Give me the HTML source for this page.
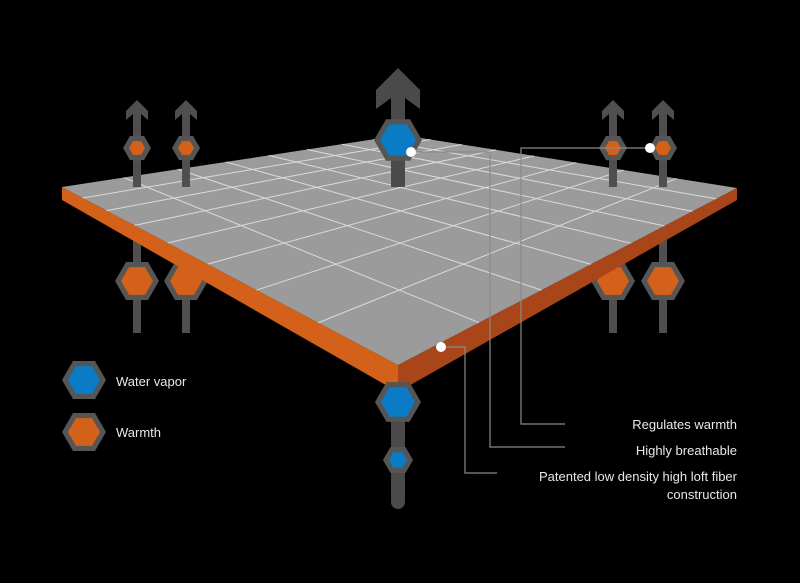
<!DOCTYPE html>
<html><head><meta charset="utf-8"><style>
html,body{margin:0;padding:0;background:#000;width:800px;height:583px;overflow:hidden}
svg{display:block}
text{font-family:"Liberation Sans",sans-serif;fill:#e8e8e8;font-size:13px}
</style></head><body>
<svg id="s" width="800" height="583" viewBox="0 0 800 583">
<g fill="#4f4f4f">
<rect x="133" y="235" width="8" height="98"/>
<rect x="182" y="235" width="8" height="98"/>
<rect x="609" y="235" width="8" height="98"/>
<rect x="659" y="235" width="8" height="98"/>
</g>
<g id="lowhex"></g>
<polygon points="62,187 398,365 398,392 62,200" fill="#d4611a"/>
<polygon points="398,365 737,188 737,200 398,392" fill="#a8461a"/>
<polygon points="62,187 402,135 737,188 398,365" fill="#9b9b9b"/>
<g id="grid" stroke="#e6e6e6" stroke-width="1" opacity="0.85"></g>
<g fill="#4f4f4f" id="tops"></g>
<g fill="#4a4a4a">
<rect x="391" y="85" width="14" height="102"/>
<polygon points="398,68 420,90 420,109 405,98 391,98 376,109 376,90"/>
<rect x="391" y="410" width="14" height="92"/>
<circle cx="398" cy="502" r="7"/>
</g>
<g id="hexes"></g>
<g stroke="#8a8a8a" stroke-width="1.2" fill="none">
<polyline points="411,152 490,152 490,447 565,447"/>
<polyline points="650,148 521,148 521,424 565,424"/>
<polyline points="441,347 465,347 465,473 497,473"/>
</g>
<g fill="#fff">
<circle cx="411" cy="152" r="5"/><circle cx="650" cy="148" r="5"/><circle cx="441" cy="347" r="5"/>
</g>
<text x="737" y="429" text-anchor="end">Regulates warmth</text>
<text x="737" y="455" text-anchor="end">Highly breathable</text>
<text x="737" y="481" text-anchor="end">Patented low density high loft fiber</text>
<text x="737" y="499" text-anchor="end">construction</text>
<text x="116" y="386">Water vapor</text>
<text x="116" y="437">Warmth</text>
</svg>
<script>
const NS="http://www.w3.org/2000/svg";
function el(p,t,a){const e=document.createElementNS(NS,t);for(const k in a)e.setAttribute(k,a[k]);p.appendChild(e);return e;}
function hex(p,cx,cy,r,fill){
 const pts=r=>[[-1,0],[-.5,-.866],[.5,-.866],[1,0],[.5,.866],[-.5,.866]].map(v=>(cx+v[0]*r)+","+(cy+v[1]*r)).join(" ");
 el(p,"polygon",{points:pts(r),fill:"#555"});
 el(p,"polygon",{points:pts(r-6),fill:fill});
}
const O="#d4611a",B="#0a7bc4";
const low=document.getElementById("lowhex");
[137,186,613,663].forEach(x=>hex(low,x,281,22,O));
// perspective grid: homography unit square -> quad T(0,0), R(1,0), F(1,1), L(0,1)
const g=document.getElementById("grid");
const P=[[402,135],[737,188],[398,365],[62,187]];
function homo(p){const [x0,y0]=p[0],[x1,y1]=p[1],[x2,y2]=p[2],[x3,y3]=p[3];
 const dx1=x1-x2,dx2=x3-x2,dy1=y1-y2,dy2=y3-y2,sx=x0-x1+x2-x3,sy=y0-y1+y2-y3;
 const den=dx1*dy2-dx2*dy1;const g_=(sx*dy2-dx2*sy)/den,h=(dx1*sy-sx*dy1)/den;
 const a=x1-x0+g_*x1,b=x3-x0+h*x3,c=x0,d=y1-y0+g_*y1,e=y3-y0+h*y3,f=y0;
 return (u,v)=>{const w=g_*u+h*v+1;return[(a*u+b*v+c)/w,(d*u+e*v+f)/w];};}
const H=homo(P);const N=8;
for(let i=1;i<N;i++){const t=i/N;
 let a=H(t,0),b=H(t,1);el(g,"line",{x1:a[0],y1:a[1],x2:b[0],y2:b[1]});
 a=H(0,t);b=H(1,t);el(g,"line",{x1:a[0],y1:a[1],x2:b[0],y2:b[1]});}
const tp=document.getElementById("tops");
[137,186,613,663].forEach(x=>{
 el(tp,"rect",{x:x-4,y:106,width:8,height:81});
 el(tp,"polygon",{points:`${x},100 ${x+11},111 ${x+11},120 ${x+4},114 ${x-4},114 ${x-11},120 ${x-11},111`});
});
const hx=document.getElementById("hexes");
[137,186,613,663].forEach(x=>hex(hx,x,148,14,O));
hex(hx,398,140,24,B);
hex(hx,398,402,23,B);
hex(hx,398,460,15,B);
hex(hx,84,380,22,B);
hex(hx,84,432,22,O);
</script>
</body></html>
